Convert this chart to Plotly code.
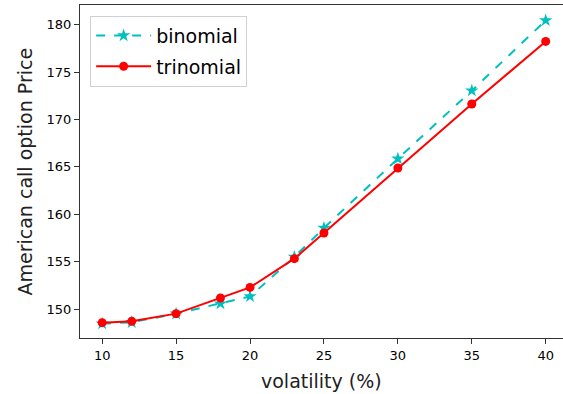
import plotly.graph_objects as go

volatility = [10, 12, 15, 18, 20, 23, 25, 30, 35, 40]
binomial = [148.45, 148.6, 149.5, 150.56, 151.33, 155.5, 158.55, 165.86, 173.04, 180.45]
trinomial = [148.56, 148.7, 149.51, 151.16, 152.28, 155.31, 158.02, 164.88, 171.63, 178.24]
x_ticks = [10, 15, 20, 25, 30, 35, 40]
y_ticks = [150, 155, 160, 165, 170, 175, 180]

FONT = "DejaVu Sans"

fig = go.Figure()
fig.add_trace(go.Scatter(
    x=volatility, y=binomial, name="binomial", mode="lines+markers",
    line=dict(color="#00bfbf", width=2, dash="dash"),
    marker=dict(symbol="star", size=10, color="#00bfbf"),
    legendgroup="b",
))
fig.add_trace(go.Scatter(
    x=volatility, y=trinomial, name="trinomial", mode="lines+markers",
    line=dict(color="#ff0000", width=2),
    marker=dict(symbol="circle", size=9, color="#ff0000"),
    legendgroup="t",
))

fig.update_layout(
    width=563, height=394,
    margin=dict(l=80, r=0, t=5, b=56),
    plot_bgcolor="white", paper_bgcolor="white",
    font=dict(family=FONT, color="black", size=13),
    showlegend=True,
    legend=dict(
        x=0.021, y=0.968, xanchor="left", yanchor="top",
        bgcolor="rgba(255,255,255,0.8)", bordercolor="#d0d0d0", borderwidth=1,
        font=dict(family=FONT, size=19, color="black"),
        tracegroupgap=3, itemwidth=55,
    ),
    xaxis=dict(
        range=[8.5, 41.17], tickvals=x_ticks, ticktext=[str(v) for v in x_ticks],
        showgrid=False, zeroline=False, showline=True, linecolor="#333", linewidth=1,
        mirror=True, ticks="outside", ticklen=5, tickcolor="#333",
        tickfont=dict(size=13, family=FONT), automargin=False,
    ),
    yaxis=dict(
        range=[146.94, 182.08], tickvals=y_ticks, ticktext=[str(v) for v in y_ticks],
        showgrid=False, zeroline=False, showline=True, linecolor="#333", linewidth=1,
        mirror=False, ticks="outside", ticklen=5, tickcolor="#333",
        tickfont=dict(size=13, family=FONT), automargin=False,
    ),
    annotations=[
        dict(text="volatility (%)", x=0.5, y=0, xref="paper", yref="paper",
             xanchor="center", yanchor="middle", yshift=-43, showarrow=False,
             font=dict(size=19, family=FONT, color="#222")),
        dict(text="American call option Price", x=0, y=0.5, xref="paper", yref="paper",
             xanchor="center", yanchor="middle", xshift=-56, textangle=-90, showarrow=False,
             font=dict(size=19, family=FONT, color="#222")),
    ],
)

fig.write_html("out.html", config={"displayModeBar": False},
               post_script="document.body.style.margin='0';document.body.style.overflow='hidden';")
